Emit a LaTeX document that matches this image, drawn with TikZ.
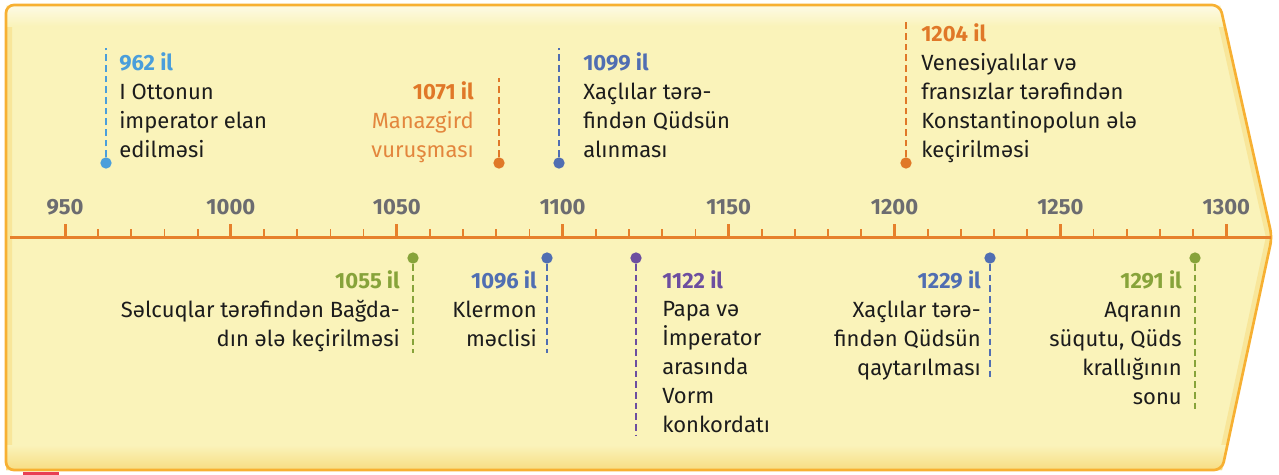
\documentclass[tikz,border=0pt]{standalone}
\usepackage{fontspec}
\setmainfont{Fira Sans}
\usepackage{xcolor}
\definecolor{fond}{RGB}{250, 243, 186}
\definecolor{ombre}{RGB}{247, 220, 128}
\definecolor{bord}{RGB}{247, 176, 50}
\definecolor{axeor}{RGB}{230, 128, 44}
\definecolor{encre}{RGB}{28, 28, 28}
\definecolor{gris}{RGB}{108, 108, 112}
\definecolor{bleuclair}{RGB}{74, 158, 219}
\definecolor{bleu}{RGB}{80, 110, 178}
\definecolor{orange}{RGB}{224, 120, 40}
\definecolor{vert}{RGB}{135, 163, 58}
\definecolor{violet}{RGB}{108, 78, 160}
\definecolor{rouge}{RGB}{232, 62, 84}
\newcommand{\ann}[2]{\textbf{\textcolor{#1}{#2}}}
\usepackage{tikz}

\begin{document}
\begin{tikzpicture}[
  x=0.75pt, y=-0.75pt,
  evtext/.style={inner sep=0pt, font=\fontsize{16.5}{21.6}\selectfont, text=encre},
  lefttext/.style={evtext, anchor=base west, align=left},
  righttext/.style={evtext, anchor=base east, align=right},
  dot/.style={circle, fill=#1, inner sep=0pt, minimum size=8.5pt},
  stem/.style={draw=#1, line width=2pt, dash pattern=on 5pt off 3pt},
  axe/.style={draw=axeor, line width=2.25pt},
  majeur/.style={draw=axeor, line width=2.25pt},
  mineur/.style={draw=axeor, line width=1.3pt},
  annee/.style={inner sep=0pt, anchor=base, font=\fontsize{16.5}{18}\selectfont\bfseries, text=gris}
]
\useasboundingbox (0,0) rectangle (1279,475);
% Background arrow
\path[fill=fond] (6,5) -- (1220,5) -- (1272,237) -- (1222,470) -- (6,470) -- cycle;
\begin{scope}
  \clip (6,5) -- (1220,5) -- (1272,237) -- (1222,470) -- (6,470) -- cycle;
  \draw[ombre, line width=9pt, opacity=0.55] (6,5) -- (1220,5) -- (1272,237) -- (1222,470) -- (6,470) -- cycle;
  \shade[top color=white!70!fond, bottom color=fond] (0,3) rectangle (1279,26);
  \shade[top color=fond, bottom color=ombre] (0,445) rectangle (1279,471);
\end{scope}
\draw[bord, line width=2pt, rounded corners=6pt] (6,5) -- (1220,5) -- (1272,237) -- (1222,470) -- (6,470) -- cycle;
\fill[rouge] (23,472) rectangle (59,475);
% Axis
\coordinate (axe0) at (10,237.5);
\coordinate (axe1) at (1271,237.5);
\foreach \an [evaluate=\an as \xx using 65+(\an-950)*3.318] in {950,960,...,1300}
  \draw[mineur] (\xx,229) -- (\xx,237.5);
\foreach \an [evaluate=\an as \xx using 65+(\an-950)*3.318] in {950,1000,...,1300} {
  \draw[majeur] (\xx,224) -- (\xx,237.5);
  \node[annee] (l\an) at (\xx,214) {\an};
}
\draw[axe] (axe0) -- (axe1);
% Events above the axis (text placed at the baseline of its last line)
\node[dot=bleuclair] (d962) at (106,163) {};
\coordinate (t962) at (106,48);
\draw[stem=bleuclair] (d962) -- (t962);
\node[lefttext] (e962) at (119,157) {\ann{bleuclair}{962 il}\\I Ottonun\\imperator elan\\edilməsi};

\node[dot=orange] (d1071) at (499,163) {};
\coordinate (t1071) at (499,78);
\draw[stem=orange] (d1071) -- (t1071);
\node[righttext, text=orange!90!white] (e1071) at (474,157) {\ann{orange}{1071 il}\\Manazgird\\vuruşması};

\node[dot=bleu] (d1099) at (559,163) {};
\coordinate (t1099) at (559,48);
\draw[stem=bleu] (d1099) -- (t1099);
\node[lefttext] (e1099) at (583,157) {\ann{bleu}{1099 il}\\Xaçlılar tərə-\\findən Qüdsün\\alınması};

\node[dot=orange] (d1204) at (906,163) {};
\coordinate (t1204) at (906,22);
\draw[stem=orange] (d1204) -- (t1204);
\node[lefttext] (e1204) at (921,157) {\ann{orange}{1204 il}\\Venesiyalılar və\\fransızlar tərəfindən\\Konstantinopolun ələ\\keçirilməsi};
% Events below the axis
\node[dot=vert] (d1055) at (413,258) {};
\coordinate (b1055) at (413,353);
\draw[stem=vert] (d1055) -- (b1055);
\node[righttext] (e1055) at (400,346) {\ann{vert}{1055 il}\\Səlcuqlar tərəfindən Bağda-\\dın ələ keçirilməsi};

\node[dot=bleu] (d1096) at (547,258) {};
\coordinate (b1096) at (547,353);
\draw[stem=bleu] (d1096) -- (b1096);
\node[righttext] (e1096) at (537,346) {\ann{bleu}{1096 il}\\Klermon\\məclisi};

\node[dot=violet] (d1122) at (636,258) {};
\coordinate (b1122) at (636,435);
\draw[stem=violet] (d1122) -- (b1122);
\node[lefttext] (e1122) at (662,432) {\ann{violet}{1122 il}\\Papa və\\İmperator\\arasında\\Vorm\\konkordatı};

\node[dot=bleu] (d1229) at (990,258) {};
\coordinate (b1229) at (990,377);
\draw[stem=bleu] (d1229) -- (b1229);
\node[righttext] (e1229) at (981,375) {\ann{bleu}{1229 il}\\Xaçlılar tərə-\\findən Qüdsün\\qaytarılması};

\node[dot=vert] (d1291) at (1195,258) {};
\coordinate (b1291) at (1195,412);
\draw[stem=vert] (d1291) -- (b1291);
\node[righttext] (e1291) at (1182,404) {\ann{vert}{1291 il}\\Aqranın\\süqutu, Qüds\\krallığının\\sonu};
\end{tikzpicture}
\end{document}
